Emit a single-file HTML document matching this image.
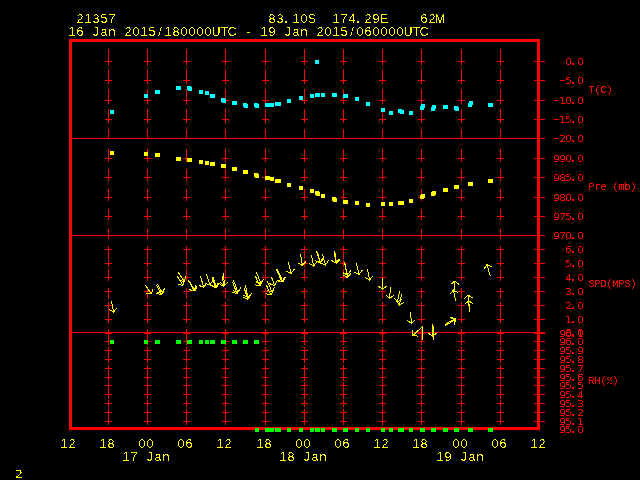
<!DOCTYPE html><html><head><meta charset="utf-8"><style>html,body{margin:0;padding:0;background:#000;width:640px;height:480px;overflow:hidden}svg{display:block}text{white-space:pre}</style></head><body>
<svg width="640" height="480" viewBox="0 0 640 480">
<defs><filter id="th" x="0" y="0" width="100%" height="100%" color-interpolation-filters="sRGB"><feComponentTransfer><feFuncA type="discrete" tableValues="0 0 1 1"/></feComponentTransfer></filter><filter id="th6" x="0" y="0" width="100%" height="100%" color-interpolation-filters="sRGB"><feComponentTransfer><feFuncA type="discrete" tableValues="0 0 0 0 0 0 1 1 1 1"/></feComponentTransfer></filter></defs>
<rect x="0" y="0" width="640" height="480" fill="#000"/>
<path fill="#ff0000" shape-rendering="crispEdges" d="M69 39h471v3h-471zM69 427h471v3h-471zM69 39h3v391h-3zM537 39h3v391h-3zM72 138h473v1h-473zM72 235h473v1h-473zM72 332h473v1h-473zM534 61h11v1h-11zM534 80h11v1h-11zM534 100h11v1h-11zM534 119h11v1h-11zM534 138h11v1h-11zM534 158h11v1h-11zM534 177h11v1h-11zM534 197h11v1h-11zM534 216h11v1h-11zM534 235h11v1h-11zM534 249h11v1h-11zM534 263h11v1h-11zM534 277h11v1h-11zM534 291h11v1h-11zM534 305h11v1h-11zM534 319h11v1h-11zM534 332h11v1h-11zM534 333h11v1h-11zM534 341h11v1h-11zM534 350h11v1h-11zM534 359h11v1h-11zM534 368h11v1h-11zM534 377h11v1h-11zM534 385h11v1h-11zM534 394h11v1h-11zM534 403h11v1h-11zM534 412h11v1h-11zM534 421h11v1h-11zM108 49h1v16h-1zM108 69h1v15h-1zM108 89h1v15h-1zM108 109h1v14h-1zM108 129h1v10h-1zM108 149h1v13h-1zM108 169h1v12h-1zM108 189h1v12h-1zM108 209h1v11h-1zM108 229h1v10h-1zM108 246h1v13h-1zM108 260h1v7h-1zM108 269h1v12h-1zM108 288h1v11h-1zM108 302h1v21h-1zM108 329h1v16h-1zM108 347h1v16h-1zM108 365h1v16h-1zM108 382h1v17h-1zM108 400h1v7h-1zM108 409h1v16h-1zM105 61h7v1h-7zM105 80h7v1h-7zM105 100h7v1h-7zM105 119h7v1h-7zM105 138h7v1h-7zM105 158h7v1h-7zM105 177h7v1h-7zM105 197h7v1h-7zM105 216h7v1h-7zM105 235h7v1h-7zM105 249h7v1h-7zM105 263h7v1h-7zM105 277h7v1h-7zM105 291h7v1h-7zM105 305h7v1h-7zM105 319h7v1h-7zM105 332h7v1h-7zM105 333h7v1h-7zM105 341h7v1h-7zM105 350h7v1h-7zM105 359h7v1h-7zM105 368h7v1h-7zM105 377h7v1h-7zM105 385h7v1h-7zM105 394h7v1h-7zM105 403h7v1h-7zM105 412h7v1h-7zM105 421h7v1h-7zM147 49h1v16h-1zM147 69h1v15h-1zM147 89h1v15h-1zM147 109h1v14h-1zM147 129h1v10h-1zM147 149h1v13h-1zM147 169h1v12h-1zM147 189h1v12h-1zM147 209h1v11h-1zM147 229h1v10h-1zM147 246h1v13h-1zM147 260h1v7h-1zM147 269h1v12h-1zM147 288h1v11h-1zM147 302h1v21h-1zM147 329h1v16h-1zM147 347h1v16h-1zM147 365h1v16h-1zM147 382h1v17h-1zM147 400h1v7h-1zM147 409h1v16h-1zM144 61h7v1h-7zM144 80h7v1h-7zM144 100h7v1h-7zM144 119h7v1h-7zM144 138h7v1h-7zM144 158h7v1h-7zM144 177h7v1h-7zM144 197h7v1h-7zM144 216h7v1h-7zM144 235h7v1h-7zM144 249h7v1h-7zM144 263h7v1h-7zM144 277h7v1h-7zM144 291h7v1h-7zM144 305h7v1h-7zM144 319h7v1h-7zM144 332h7v1h-7zM144 333h7v1h-7zM144 341h7v1h-7zM144 350h7v1h-7zM144 359h7v1h-7zM144 368h7v1h-7zM144 377h7v1h-7zM144 385h7v1h-7zM144 394h7v1h-7zM144 403h7v1h-7zM144 412h7v1h-7zM144 421h7v1h-7zM186 49h1v16h-1zM186 69h1v15h-1zM186 89h1v15h-1zM186 109h1v14h-1zM186 129h1v10h-1zM186 149h1v13h-1zM186 169h1v12h-1zM186 189h1v12h-1zM186 209h1v11h-1zM186 229h1v10h-1zM186 246h1v13h-1zM186 260h1v7h-1zM186 269h1v12h-1zM186 288h1v11h-1zM186 302h1v21h-1zM186 329h1v16h-1zM186 347h1v16h-1zM186 365h1v16h-1zM186 382h1v17h-1zM186 400h1v7h-1zM186 409h1v16h-1zM183 61h7v1h-7zM183 80h7v1h-7zM183 100h7v1h-7zM183 119h7v1h-7zM183 138h7v1h-7zM183 158h7v1h-7zM183 177h7v1h-7zM183 197h7v1h-7zM183 216h7v1h-7zM183 235h7v1h-7zM183 249h7v1h-7zM183 263h7v1h-7zM183 277h7v1h-7zM183 291h7v1h-7zM183 305h7v1h-7zM183 319h7v1h-7zM183 332h7v1h-7zM183 333h7v1h-7zM183 341h7v1h-7zM183 350h7v1h-7zM183 359h7v1h-7zM183 368h7v1h-7zM183 377h7v1h-7zM183 385h7v1h-7zM183 394h7v1h-7zM183 403h7v1h-7zM183 412h7v1h-7zM183 421h7v1h-7zM225 49h1v16h-1zM225 69h1v15h-1zM225 89h1v15h-1zM225 109h1v14h-1zM225 129h1v10h-1zM225 149h1v13h-1zM225 169h1v12h-1zM225 189h1v12h-1zM225 209h1v11h-1zM225 229h1v10h-1zM225 246h1v13h-1zM225 260h1v7h-1zM225 269h1v12h-1zM225 288h1v11h-1zM225 302h1v21h-1zM225 329h1v16h-1zM225 347h1v16h-1zM225 365h1v16h-1zM225 382h1v17h-1zM225 400h1v7h-1zM225 409h1v16h-1zM222 61h7v1h-7zM222 80h7v1h-7zM222 100h7v1h-7zM222 119h7v1h-7zM222 138h7v1h-7zM222 158h7v1h-7zM222 177h7v1h-7zM222 197h7v1h-7zM222 216h7v1h-7zM222 235h7v1h-7zM222 249h7v1h-7zM222 263h7v1h-7zM222 277h7v1h-7zM222 291h7v1h-7zM222 305h7v1h-7zM222 319h7v1h-7zM222 332h7v1h-7zM222 333h7v1h-7zM222 341h7v1h-7zM222 350h7v1h-7zM222 359h7v1h-7zM222 368h7v1h-7zM222 377h7v1h-7zM222 385h7v1h-7zM222 394h7v1h-7zM222 403h7v1h-7zM222 412h7v1h-7zM222 421h7v1h-7zM265 49h1v16h-1zM265 69h1v15h-1zM265 89h1v15h-1zM265 109h1v14h-1zM265 129h1v10h-1zM265 149h1v13h-1zM265 169h1v12h-1zM265 189h1v12h-1zM265 209h1v11h-1zM265 229h1v10h-1zM265 246h1v13h-1zM265 260h1v7h-1zM265 269h1v12h-1zM265 288h1v11h-1zM265 302h1v21h-1zM265 329h1v16h-1zM265 347h1v16h-1zM265 365h1v16h-1zM265 382h1v17h-1zM265 400h1v7h-1zM265 409h1v16h-1zM262 61h7v1h-7zM262 80h7v1h-7zM262 100h7v1h-7zM262 119h7v1h-7zM262 138h7v1h-7zM262 158h7v1h-7zM262 177h7v1h-7zM262 197h7v1h-7zM262 216h7v1h-7zM262 235h7v1h-7zM262 249h7v1h-7zM262 263h7v1h-7zM262 277h7v1h-7zM262 291h7v1h-7zM262 305h7v1h-7zM262 319h7v1h-7zM262 332h7v1h-7zM262 333h7v1h-7zM262 341h7v1h-7zM262 350h7v1h-7zM262 359h7v1h-7zM262 368h7v1h-7zM262 377h7v1h-7zM262 385h7v1h-7zM262 394h7v1h-7zM262 403h7v1h-7zM262 412h7v1h-7zM262 421h7v1h-7zM304 49h1v16h-1zM304 69h1v15h-1zM304 89h1v15h-1zM304 109h1v14h-1zM304 129h1v10h-1zM304 149h1v13h-1zM304 169h1v12h-1zM304 189h1v12h-1zM304 209h1v11h-1zM304 229h1v10h-1zM304 246h1v13h-1zM304 260h1v7h-1zM304 269h1v12h-1zM304 288h1v11h-1zM304 302h1v21h-1zM304 329h1v16h-1zM304 347h1v16h-1zM304 365h1v16h-1zM304 382h1v17h-1zM304 400h1v7h-1zM304 409h1v16h-1zM301 61h7v1h-7zM301 80h7v1h-7zM301 100h7v1h-7zM301 119h7v1h-7zM301 138h7v1h-7zM301 158h7v1h-7zM301 177h7v1h-7zM301 197h7v1h-7zM301 216h7v1h-7zM301 235h7v1h-7zM301 249h7v1h-7zM301 263h7v1h-7zM301 277h7v1h-7zM301 291h7v1h-7zM301 305h7v1h-7zM301 319h7v1h-7zM301 332h7v1h-7zM301 333h7v1h-7zM301 341h7v1h-7zM301 350h7v1h-7zM301 359h7v1h-7zM301 368h7v1h-7zM301 377h7v1h-7zM301 385h7v1h-7zM301 394h7v1h-7zM301 403h7v1h-7zM301 412h7v1h-7zM301 421h7v1h-7zM343 49h1v16h-1zM343 69h1v15h-1zM343 89h1v15h-1zM343 109h1v14h-1zM343 129h1v10h-1zM343 149h1v13h-1zM343 169h1v12h-1zM343 189h1v12h-1zM343 209h1v11h-1zM343 229h1v10h-1zM343 246h1v13h-1zM343 260h1v7h-1zM343 269h1v12h-1zM343 288h1v11h-1zM343 302h1v21h-1zM343 329h1v16h-1zM343 347h1v16h-1zM343 365h1v16h-1zM343 382h1v17h-1zM343 400h1v7h-1zM343 409h1v16h-1zM340 61h7v1h-7zM340 80h7v1h-7zM340 100h7v1h-7zM340 119h7v1h-7zM340 138h7v1h-7zM340 158h7v1h-7zM340 177h7v1h-7zM340 197h7v1h-7zM340 216h7v1h-7zM340 235h7v1h-7zM340 249h7v1h-7zM340 263h7v1h-7zM340 277h7v1h-7zM340 291h7v1h-7zM340 305h7v1h-7zM340 319h7v1h-7zM340 332h7v1h-7zM340 333h7v1h-7zM340 341h7v1h-7zM340 350h7v1h-7zM340 359h7v1h-7zM340 368h7v1h-7zM340 377h7v1h-7zM340 385h7v1h-7zM340 394h7v1h-7zM340 403h7v1h-7zM340 412h7v1h-7zM340 421h7v1h-7zM382 49h1v16h-1zM382 69h1v15h-1zM382 89h1v15h-1zM382 109h1v14h-1zM382 129h1v10h-1zM382 149h1v13h-1zM382 169h1v12h-1zM382 189h1v12h-1zM382 209h1v11h-1zM382 229h1v10h-1zM382 246h1v13h-1zM382 260h1v7h-1zM382 269h1v12h-1zM382 288h1v11h-1zM382 302h1v21h-1zM382 329h1v16h-1zM382 347h1v16h-1zM382 365h1v16h-1zM382 382h1v17h-1zM382 400h1v7h-1zM382 409h1v16h-1zM379 61h7v1h-7zM379 80h7v1h-7zM379 100h7v1h-7zM379 119h7v1h-7zM379 138h7v1h-7zM379 158h7v1h-7zM379 177h7v1h-7zM379 197h7v1h-7zM379 216h7v1h-7zM379 235h7v1h-7zM379 249h7v1h-7zM379 263h7v1h-7zM379 277h7v1h-7zM379 291h7v1h-7zM379 305h7v1h-7zM379 319h7v1h-7zM379 332h7v1h-7zM379 333h7v1h-7zM379 341h7v1h-7zM379 350h7v1h-7zM379 359h7v1h-7zM379 368h7v1h-7zM379 377h7v1h-7zM379 385h7v1h-7zM379 394h7v1h-7zM379 403h7v1h-7zM379 412h7v1h-7zM379 421h7v1h-7zM421 49h1v16h-1zM421 69h1v15h-1zM421 89h1v15h-1zM421 109h1v14h-1zM421 129h1v10h-1zM421 149h1v13h-1zM421 169h1v12h-1zM421 189h1v12h-1zM421 209h1v11h-1zM421 229h1v10h-1zM421 246h1v13h-1zM421 260h1v7h-1zM421 269h1v12h-1zM421 288h1v11h-1zM421 302h1v21h-1zM421 329h1v16h-1zM421 347h1v16h-1zM421 365h1v16h-1zM421 382h1v17h-1zM421 400h1v7h-1zM421 409h1v16h-1zM418 61h7v1h-7zM418 80h7v1h-7zM418 100h7v1h-7zM418 119h7v1h-7zM418 138h7v1h-7zM418 158h7v1h-7zM418 177h7v1h-7zM418 197h7v1h-7zM418 216h7v1h-7zM418 235h7v1h-7zM418 249h7v1h-7zM418 263h7v1h-7zM418 277h7v1h-7zM418 291h7v1h-7zM418 305h7v1h-7zM418 319h7v1h-7zM418 332h7v1h-7zM418 333h7v1h-7zM418 341h7v1h-7zM418 350h7v1h-7zM418 359h7v1h-7zM418 368h7v1h-7zM418 377h7v1h-7zM418 385h7v1h-7zM418 394h7v1h-7zM418 403h7v1h-7zM418 412h7v1h-7zM418 421h7v1h-7zM461 49h1v16h-1zM461 69h1v15h-1zM461 89h1v15h-1zM461 109h1v14h-1zM461 129h1v10h-1zM461 149h1v13h-1zM461 169h1v12h-1zM461 189h1v12h-1zM461 209h1v11h-1zM461 229h1v10h-1zM461 246h1v13h-1zM461 260h1v7h-1zM461 269h1v12h-1zM461 288h1v11h-1zM461 302h1v21h-1zM461 329h1v16h-1zM461 347h1v16h-1zM461 365h1v16h-1zM461 382h1v17h-1zM461 400h1v7h-1zM461 409h1v16h-1zM458 61h7v1h-7zM458 80h7v1h-7zM458 100h7v1h-7zM458 119h7v1h-7zM458 138h7v1h-7zM458 158h7v1h-7zM458 177h7v1h-7zM458 197h7v1h-7zM458 216h7v1h-7zM458 235h7v1h-7zM458 249h7v1h-7zM458 263h7v1h-7zM458 277h7v1h-7zM458 291h7v1h-7zM458 305h7v1h-7zM458 319h7v1h-7zM458 332h7v1h-7zM458 333h7v1h-7zM458 341h7v1h-7zM458 350h7v1h-7zM458 359h7v1h-7zM458 368h7v1h-7zM458 377h7v1h-7zM458 385h7v1h-7zM458 394h7v1h-7zM458 403h7v1h-7zM458 412h7v1h-7zM458 421h7v1h-7zM500 49h1v16h-1zM500 69h1v15h-1zM500 89h1v15h-1zM500 109h1v14h-1zM500 129h1v10h-1zM500 149h1v13h-1zM500 169h1v12h-1zM500 189h1v12h-1zM500 209h1v11h-1zM500 229h1v10h-1zM500 246h1v13h-1zM500 260h1v7h-1zM500 269h1v12h-1zM500 288h1v11h-1zM500 302h1v21h-1zM500 329h1v16h-1zM500 347h1v16h-1zM500 365h1v16h-1zM500 382h1v17h-1zM500 400h1v7h-1zM500 409h1v16h-1zM497 61h7v1h-7zM497 80h7v1h-7zM497 100h7v1h-7zM497 119h7v1h-7zM497 138h7v1h-7zM497 158h7v1h-7zM497 177h7v1h-7zM497 197h7v1h-7zM497 216h7v1h-7zM497 235h7v1h-7zM497 249h7v1h-7zM497 263h7v1h-7zM497 277h7v1h-7zM497 291h7v1h-7zM497 305h7v1h-7zM497 319h7v1h-7zM497 332h7v1h-7zM497 333h7v1h-7zM497 341h7v1h-7zM497 350h7v1h-7zM497 359h7v1h-7zM497 368h7v1h-7zM497 377h7v1h-7zM497 385h7v1h-7zM497 394h7v1h-7zM497 403h7v1h-7zM497 412h7v1h-7zM497 421h7v1h-7z"/>
<polyline fill="none" stroke="#ffff00" stroke-width="1" shape-rendering="crispEdges" points="422.5,326.0 422.5,339.5"/>
<polyline fill="none" stroke="#ffff00" stroke-width="1" shape-rendering="crispEdges" points="433.5,326.0 433.5,339.5"/>
<polyline fill="none" stroke="#ffff00" stroke-width="1" shape-rendering="crispEdges" points="111.5,301.0 113.5,312.0"/>
<polyline fill="none" stroke="#ffff00" stroke-width="1" shape-rendering="crispEdges" points="117.0,307.8 113.5,312.0 108.7,309.3"/>
<polyline fill="none" stroke="#ffff00" stroke-width="1" shape-rendering="crispEdges" points="145.5,285.5 151.5,294.0"/>
<polyline fill="none" stroke="#ffff00" stroke-width="1" shape-rendering="crispEdges" points="152.9,288.7 151.5,294.0 146.0,293.5"/>
<polyline fill="none" stroke="#ffff00" stroke-width="1" shape-rendering="crispEdges" points="156.5,285.5 161.8,294.5"/>
<polyline fill="none" stroke="#ffff00" stroke-width="1" shape-rendering="crispEdges" points="163.6,289.3 161.8,294.5 156.4,293.6"/>
<polyline fill="none" stroke="#ffff00" stroke-width="1" shape-rendering="crispEdges" points="157.5,284.5 162.8,293.5"/>
<polyline fill="none" stroke="#ffff00" stroke-width="1" shape-rendering="crispEdges" points="164.6,288.3 162.8,293.5 157.4,292.6"/>
<polyline fill="none" stroke="#ffff00" stroke-width="1" shape-rendering="crispEdges" points="178.1,272.1 184.3,281.3"/>
<polyline fill="none" stroke="#ffff00" stroke-width="1" shape-rendering="crispEdges" points="185.8,276.0 184.3,281.3 178.8,280.7"/>
<polyline fill="none" stroke="#ffff00" stroke-width="1" shape-rendering="crispEdges" points="177.3,276.4 183.0,285.3"/>
<polyline fill="none" stroke="#ffff00" stroke-width="1" shape-rendering="crispEdges" points="184.6,280.1 183.0,285.3 177.5,284.6"/>
<polyline fill="none" stroke="#ffff00" stroke-width="1" shape-rendering="crispEdges" points="188.3,280.3 194.0,290.5"/>
<polyline fill="none" stroke="#ffff00" stroke-width="1" shape-rendering="crispEdges" points="196.0,285.4 194.0,290.5 188.6,289.5"/>
<polyline fill="none" stroke="#ffff00" stroke-width="1" shape-rendering="crispEdges" points="189.3,280.8 195.0,291.0"/>
<polyline fill="none" stroke="#ffff00" stroke-width="1" shape-rendering="crispEdges" points="197.0,285.9 195.0,291.0 189.6,290.0"/>
<polyline fill="none" stroke="#ffff00" stroke-width="1" shape-rendering="crispEdges" points="200.4,276.5 203.9,287.4"/>
<polyline fill="none" stroke="#ffff00" stroke-width="1" shape-rendering="crispEdges" points="206.8,282.7 203.9,287.4 198.8,285.3"/>
<polyline fill="none" stroke="#ffff00" stroke-width="1" shape-rendering="crispEdges" points="206.5,274.4 209.9,285.1"/>
<polyline fill="none" stroke="#ffff00" stroke-width="1" shape-rendering="crispEdges" points="212.8,280.5 209.9,285.1 204.8,283.0"/>
<polyline fill="none" stroke="#ffff00" stroke-width="1" shape-rendering="crispEdges" points="211.8,276.5 215.5,287.4"/>
<polyline fill="none" stroke="#ffff00" stroke-width="1" shape-rendering="crispEdges" points="218.4,282.7 215.5,287.4 210.4,285.4"/>
<polyline fill="none" stroke="#ffff00" stroke-width="1" shape-rendering="crispEdges" points="212.8,276.5 216.5,287.4"/>
<polyline fill="none" stroke="#ffff00" stroke-width="1" shape-rendering="crispEdges" points="219.4,282.7 216.5,287.4 211.4,285.4"/>
<polyline fill="none" stroke="#ffff00" stroke-width="1" shape-rendering="crispEdges" points="223.4,273.5 224.5,285.5"/>
<polyline fill="none" stroke="#ffff00" stroke-width="1" shape-rendering="crispEdges" points="228.4,281.6 224.5,285.5 220.0,282.4"/>
<polyline fill="none" stroke="#ffff00" stroke-width="1" shape-rendering="crispEdges" points="222.5,276.0 223.5,286.5"/>
<polyline fill="none" stroke="#ffff00" stroke-width="1" shape-rendering="crispEdges" points="227.4,282.6 223.5,286.5 219.0,283.4"/>
<polyline fill="none" stroke="#ffff00" stroke-width="1" shape-rendering="crispEdges" points="233.5,280.3 238.0,292.3"/>
<polyline fill="none" stroke="#ffff00" stroke-width="1" shape-rendering="crispEdges" points="240.7,287.5 238.0,292.3 232.8,290.5"/>
<polyline fill="none" stroke="#ffff00" stroke-width="1" shape-rendering="crispEdges" points="232.5,281.8 237.0,293.8"/>
<polyline fill="none" stroke="#ffff00" stroke-width="1" shape-rendering="crispEdges" points="239.7,289.0 237.0,293.8 231.8,292.0"/>
<polyline fill="none" stroke="#ffff00" stroke-width="1" shape-rendering="crispEdges" points="245.4,285.4 248.0,297.5"/>
<polyline fill="none" stroke="#ffff00" stroke-width="1" shape-rendering="crispEdges" points="251.4,293.2 248.0,297.5 243.1,294.9"/>
<polyline fill="none" stroke="#ffff00" stroke-width="1" shape-rendering="crispEdges" points="244.3,288.4 248.0,299.3"/>
<polyline fill="none" stroke="#ffff00" stroke-width="1" shape-rendering="crispEdges" points="250.9,294.6 248.0,299.3 242.9,297.3"/>
<polyline fill="none" stroke="#ffff00" stroke-width="1" shape-rendering="crispEdges" points="256.5,272.5 261.0,283.5"/>
<polyline fill="none" stroke="#ffff00" stroke-width="1" shape-rendering="crispEdges" points="263.6,278.6 261.0,283.5 255.8,281.8"/>
<polyline fill="none" stroke="#ffff00" stroke-width="1" shape-rendering="crispEdges" points="255.5,276.5 260.0,286.0"/>
<polyline fill="none" stroke="#ffff00" stroke-width="1" shape-rendering="crispEdges" points="262.3,281.0 260.0,286.0 254.7,284.6"/>
<polyline fill="none" stroke="#ffff00" stroke-width="1" shape-rendering="crispEdges" points="267.5,281.5 272.0,292.0"/>
<polyline fill="none" stroke="#ffff00" stroke-width="1" shape-rendering="crispEdges" points="274.5,287.1 272.0,292.0 266.7,290.4"/>
<polyline fill="none" stroke="#ffff00" stroke-width="1" shape-rendering="crispEdges" points="266.5,285.5 271.0,295.0"/>
<polyline fill="none" stroke="#ffff00" stroke-width="1" shape-rendering="crispEdges" points="273.3,290.0 271.0,295.0 265.7,293.6"/>
<polyline fill="none" stroke="#ffff00" stroke-width="1" shape-rendering="crispEdges" points="271.5,277.0 274.5,285.5"/>
<polyline fill="none" stroke="#ffff00" stroke-width="1" shape-rendering="crispEdges" points="277.3,280.8 274.5,285.5 269.4,283.6"/>
<polyline fill="none" stroke="#ffff00" stroke-width="1" shape-rendering="crispEdges" points="276.5,269.5 282.0,282.0"/>
<polyline fill="none" stroke="#ffff00" stroke-width="1" shape-rendering="crispEdges" points="284.4,277.1 282.0,282.0 276.7,280.5"/>
<polyline fill="none" stroke="#ffff00" stroke-width="1" shape-rendering="crispEdges" points="277.5,269.5 283.0,282.0"/>
<polyline fill="none" stroke="#ffff00" stroke-width="1" shape-rendering="crispEdges" points="285.4,277.1 283.0,282.0 277.7,280.5"/>
<polyline fill="none" stroke="#ffff00" stroke-width="1" shape-rendering="crispEdges" points="288.5,262.5 291.0,273.5"/>
<polyline fill="none" stroke="#ffff00" stroke-width="1" shape-rendering="crispEdges" points="294.3,269.1 291.0,273.5 286.1,271.0"/>
<polyline fill="none" stroke="#ffff00" stroke-width="1" shape-rendering="crispEdges" points="300.5,254.5 302.5,265.5"/>
<polyline fill="none" stroke="#ffff00" stroke-width="1" shape-rendering="crispEdges" points="306.0,261.3 302.5,265.5 297.7,262.8"/>
<polyline fill="none" stroke="#ffff00" stroke-width="1" shape-rendering="crispEdges" points="311.5,255.0 313.5,266.0"/>
<polyline fill="none" stroke="#ffff00" stroke-width="1" shape-rendering="crispEdges" points="317.0,261.8 313.5,266.0 308.7,263.3"/>
<polyline fill="none" stroke="#ffff00" stroke-width="1" shape-rendering="crispEdges" points="316.5,251.5 320.0,262.5"/>
<polyline fill="none" stroke="#ffff00" stroke-width="1" shape-rendering="crispEdges" points="322.9,257.9 320.0,262.5 314.9,260.4"/>
<polyline fill="none" stroke="#ffff00" stroke-width="1" shape-rendering="crispEdges" points="317.5,252.5 320.5,263.0"/>
<polyline fill="none" stroke="#ffff00" stroke-width="1" shape-rendering="crispEdges" points="323.6,258.4 320.5,263.0 315.5,260.8"/>
<polyline fill="none" stroke="#ffff00" stroke-width="1" shape-rendering="crispEdges" points="322.5,254.5 325.5,265.0"/>
<polyline fill="none" stroke="#ffff00" stroke-width="1" shape-rendering="crispEdges" points="328.6,260.4 325.5,265.0 320.5,262.8"/>
<polyline fill="none" stroke="#ffff00" stroke-width="1" shape-rendering="crispEdges" points="334.0,251.5 336.0,263.0"/>
<polyline fill="none" stroke="#ffff00" stroke-width="1" shape-rendering="crispEdges" points="339.5,258.8 336.0,263.0 331.2,260.2"/>
<polyline fill="none" stroke="#ffff00" stroke-width="1" shape-rendering="crispEdges" points="335.0,252.5 336.5,263.5"/>
<polyline fill="none" stroke="#ffff00" stroke-width="1" shape-rendering="crispEdges" points="340.2,259.4 336.5,263.5 331.8,260.6"/>
<polyline fill="none" stroke="#ffff00" stroke-width="1" shape-rendering="crispEdges" points="344.5,262.5 347.5,275.0"/>
<polyline fill="none" stroke="#ffff00" stroke-width="1" shape-rendering="crispEdges" points="350.8,270.6 347.5,275.0 342.6,272.5"/>
<polyline fill="none" stroke="#ffff00" stroke-width="1" shape-rendering="crispEdges" points="345.0,264.5 347.5,277.5"/>
<polyline fill="none" stroke="#ffff00" stroke-width="1" shape-rendering="crispEdges" points="351.0,273.2 347.5,277.5 342.7,274.8"/>
<polyline fill="none" stroke="#ffff00" stroke-width="1" shape-rendering="crispEdges" points="356.5,263.5 359.0,274.5"/>
<polyline fill="none" stroke="#ffff00" stroke-width="1" shape-rendering="crispEdges" points="362.3,270.1 359.0,274.5 354.1,272.0"/>
<polyline fill="none" stroke="#ffff00" stroke-width="1" shape-rendering="crispEdges" points="367.5,269.5 369.5,280.0"/>
<polyline fill="none" stroke="#ffff00" stroke-width="1" shape-rendering="crispEdges" points="373.0,275.7 369.5,280.0 364.7,277.3"/>
<polyline fill="none" stroke="#ffff00" stroke-width="1" shape-rendering="crispEdges" points="382.5,278.0 382.5,289.5"/>
<polyline fill="none" stroke="#ffff00" stroke-width="1" shape-rendering="crispEdges" points="386.7,286.0 382.5,289.5 378.3,286.0"/>
<polyline fill="none" stroke="#ffff00" stroke-width="1" shape-rendering="crispEdges" points="390.5,287.0 389.5,298.5"/>
<polyline fill="none" stroke="#ffff00" stroke-width="1" shape-rendering="crispEdges" points="394.0,295.3 389.5,298.5 385.6,294.6"/>
<polyline fill="none" stroke="#ffff00" stroke-width="1" shape-rendering="crispEdges" points="399.5,291.0 397.5,302.0"/>
<polyline fill="none" stroke="#ffff00" stroke-width="1" shape-rendering="crispEdges" points="402.3,299.3 397.5,302.0 394.0,297.8"/>
<polyline fill="none" stroke="#ffff00" stroke-width="1" shape-rendering="crispEdges" points="401.5,294.0 399.5,305.0"/>
<polyline fill="none" stroke="#ffff00" stroke-width="1" shape-rendering="crispEdges" points="404.3,302.3 399.5,305.0 396.0,300.8"/>
<polyline fill="none" stroke="#ffff00" stroke-width="1" shape-rendering="crispEdges" points="410.5,312.0 411.5,323.5"/>
<polyline fill="none" stroke="#ffff00" stroke-width="1" shape-rendering="crispEdges" points="415.4,319.6 411.5,323.5 407.0,320.3"/>
<polyline fill="none" stroke="#ffff00" stroke-width="1" shape-rendering="crispEdges" points="422.0,327.0 412.8,335.5"/>
<polyline fill="none" stroke="#ffff00" stroke-width="1" shape-rendering="crispEdges" points="418.3,336.2 412.8,335.5 412.5,330.0"/>
<polyline fill="none" stroke="#ffff00" stroke-width="1" shape-rendering="crispEdges" points="432.5,324.0 432.5,336.5"/>
<polyline fill="none" stroke="#ffff00" stroke-width="1" shape-rendering="crispEdges" points="436.7,333.0 432.5,336.5 428.3,333.0"/>
<polyline fill="none" stroke="#ffff00" stroke-width="1" shape-rendering="crispEdges" points="445.0,324.4 455.0,318.8"/>
<polyline fill="none" stroke="#ffff00" stroke-width="1" shape-rendering="crispEdges" points="449.8,316.8 455.0,318.8 454.0,324.2"/>
<polyline fill="none" stroke="#ffff00" stroke-width="1" shape-rendering="crispEdges" points="445.5,325.5 455.5,319.5"/>
<polyline fill="none" stroke="#ffff00" stroke-width="1" shape-rendering="crispEdges" points="450.3,317.7 455.5,319.5 454.6,324.9"/>
<polyline fill="none" stroke="#ffff00" stroke-width="1" shape-rendering="crispEdges" points="455.5,301.0 453.5,290.0"/>
<polyline fill="none" stroke="#ffff00" stroke-width="1" shape-rendering="crispEdges" points="450.0,294.2 453.5,290.0 458.3,292.7"/>
<polyline fill="none" stroke="#ffff00" stroke-width="1" shape-rendering="crispEdges" points="455.0,292.0 454.8,281.0"/>
<polyline fill="none" stroke="#ffff00" stroke-width="1" shape-rendering="crispEdges" points="450.6,284.6 454.8,281.0 459.0,284.4"/>
<polyline fill="none" stroke="#ffff00" stroke-width="1" shape-rendering="crispEdges" points="469.5,312.0 468.8,300.6"/>
<polyline fill="none" stroke="#ffff00" stroke-width="1" shape-rendering="crispEdges" points="464.8,304.4 468.8,300.6 473.2,303.9"/>
<polyline fill="none" stroke="#ffff00" stroke-width="1" shape-rendering="crispEdges" points="469.0,306.0 468.2,295.0"/>
<polyline fill="none" stroke="#ffff00" stroke-width="1" shape-rendering="crispEdges" points="464.3,298.8 468.2,295.0 472.7,298.2"/>
<polyline fill="none" stroke="#ffff00" stroke-width="1" shape-rendering="crispEdges" points="490.2,276.0 487.0,264.5"/>
<polyline fill="none" stroke="#ffff00" stroke-width="1" shape-rendering="crispEdges" points="483.9,269.0 487.0,264.5 492.0,266.8"/>
<path fill="#00ffff" shape-rendering="crispEdges" d="M110 110h4v4h-4zM144 94h4v4h-4zM155 90h5v4h-5zM176 86h5v4h-5zM187 86h4v4h-4zM188 87h4v4h-4zM199 90h4v4h-4zM205 91h4v4h-4zM210 94h5v4h-5zM221 98h4v4h-4zM222 99h4v4h-4zM232 101h5v4h-5zM243 103h4v4h-4zM244 104h4v4h-4zM254 103h4v4h-4zM255 104h4v4h-4zM265 103h9v4h-9zM275 102h6v4h-6zM287 99h4v4h-4zM299 96h4v4h-4zM310 94h4v4h-4zM315 93h5v4h-5zM321 93h4v4h-4zM315 60h4v4h-4zM332 93h5v4h-5zM343 94h5v4h-5zM355 97h4v4h-4zM366 102h4v4h-4zM381 108h4v4h-4zM389 111h4v4h-4zM398 109h4v4h-4zM400 110h4v4h-4zM409 111h4v4h-4zM421 104h4v4h-4zM420 106h4v4h-4zM432 105h4v4h-4zM431 107h4v4h-4zM443 105h5v4h-5zM454 106h4v4h-4zM455 107h4v4h-4zM469 101h4v4h-4zM468 103h4v4h-4zM488 103h5v4h-5z"/>
<path fill="#ffff00" shape-rendering="crispEdges" d="M110 151h4v4h-4zM144 152h4v4h-4zM155 153h5v4h-5zM176 157h5v4h-5zM187 158h5v4h-5zM199 160h4v4h-4zM205 161h4v4h-4zM210 162h5v4h-5zM221 164h5v4h-5zM232 167h5v4h-5zM243 170h5v4h-5zM254 173h4v4h-4zM255 174h4v4h-4zM265 176h5v4h-5zM270 177h4v4h-4zM275 179h6v4h-6zM287 183h4v4h-4zM299 186h4v4h-4zM310 189h4v4h-4zM315 191h4v4h-4zM316 192h4v4h-4zM321 194h4v4h-4zM332 197h4v4h-4zM333 198h4v4h-4zM343 200h5v4h-5zM355 201h4v4h-4zM366 203h4v4h-4zM381 202h4v4h-4zM389 202h4v4h-4zM398 201h6v4h-6zM409 199h4v4h-4zM421 194h4v4h-4zM420 195h4v4h-4zM432 191h4v4h-4zM431 192h4v4h-4zM443 188h5v4h-5zM454 185h5v4h-5zM468 182h5v4h-5zM488 179h5v4h-5z"/>
<path fill="#00ff00" shape-rendering="crispEdges" d="M110 340h4v4h-4zM144 340h4v4h-4zM155 340h5v4h-5zM176 340h5v4h-5zM187 340h5v4h-5zM199 340h4v4h-4zM205 340h4v4h-4zM210 340h5v4h-5zM221 340h5v4h-5zM232 340h5v4h-5zM243 340h5v4h-5zM254 340h5v4h-5zM255 428h4v4h-4zM265 428h9v4h-9zM275 428h6v4h-6zM287 428h4v4h-4zM299 428h4v4h-4zM310 428h4v4h-4zM315 428h5v4h-5zM321 428h4v4h-4zM332 428h5v4h-5zM343 428h5v4h-5zM355 428h4v4h-4zM366 428h4v4h-4zM381 428h4v4h-4zM389 428h4v4h-4zM398 428h6v4h-6zM409 428h4v4h-4zM420 428h5v4h-5zM431 428h5v4h-5zM443 428h5v4h-5zM454 428h5v4h-5zM468 428h5v4h-5zM488 428h5v4h-5z"/>
<g filter="url(#th)" font-family="'DejaVu Sans', sans-serif">
<text transform="scale(1.2,1)" text-anchor="middle" font-size="9.4px" fill="#ff0000" xml:space="preserve"><tspan x="473.75" y="65">0</tspan><tspan x="477.45" y="65" font-size="16px">.</tspan><tspan x="483.75" y="65">0</tspan></text>
<text transform="scale(1.2,1)" text-anchor="middle" font-size="9.4px" fill="#ff0000" xml:space="preserve"><tspan x="468.75" y="85" font-size="14px">-</tspan><tspan x="473.75" y="84">5</tspan><tspan x="477.45" y="84" font-size="16px">.</tspan><tspan x="483.75" y="84">0</tspan></text>
<text transform="scale(1.2,1)" text-anchor="middle" font-size="9.4px" fill="#ff0000" xml:space="preserve"><tspan x="463.75" y="105" font-size="14px">-</tspan><tspan x="468.75 473.75" y="104">10</tspan><tspan x="477.45" y="104" font-size="16px">.</tspan><tspan x="483.75" y="104">0</tspan></text>
<text transform="scale(1.2,1)" text-anchor="middle" font-size="9.4px" fill="#ff0000" xml:space="preserve"><tspan x="463.75" y="124" font-size="14px">-</tspan><tspan x="468.75 473.75" y="123">15</tspan><tspan x="477.45" y="123" font-size="16px">.</tspan><tspan x="483.75" y="123">0</tspan></text>
<text transform="scale(1.2,1)" text-anchor="middle" font-size="9.4px" fill="#ff0000" xml:space="preserve"><tspan x="463.75" y="143" font-size="14px">-</tspan><tspan x="468.75 473.75" y="142">20</tspan><tspan x="477.45" y="142" font-size="16px">.</tspan><tspan x="483.75" y="142">0</tspan></text>
<text transform="scale(1.2,1)" text-anchor="middle" font-size="9.4px" fill="#ff0000" xml:space="preserve"><tspan x="463.75 468.75 473.75" y="162">990</tspan><tspan x="477.45" y="162" font-size="16px">.</tspan><tspan x="483.75" y="162">0</tspan></text>
<text transform="scale(1.2,1)" text-anchor="middle" font-size="9.4px" fill="#ff0000" xml:space="preserve"><tspan x="463.75 468.75 473.75" y="181">985</tspan><tspan x="477.45" y="181" font-size="16px">.</tspan><tspan x="483.75" y="181">0</tspan></text>
<text transform="scale(1.2,1)" text-anchor="middle" font-size="9.4px" fill="#ff0000" xml:space="preserve"><tspan x="463.75 468.75 473.75" y="201">980</tspan><tspan x="477.45" y="201" font-size="16px">.</tspan><tspan x="483.75" y="201">0</tspan></text>
<text transform="scale(1.2,1)" text-anchor="middle" font-size="9.4px" fill="#ff0000" xml:space="preserve"><tspan x="463.75 468.75 473.75" y="220">975</tspan><tspan x="477.45" y="220" font-size="16px">.</tspan><tspan x="483.75" y="220">0</tspan></text>
<text transform="scale(1.2,1)" text-anchor="middle" font-size="9.4px" fill="#ff0000" xml:space="preserve"><tspan x="463.75 468.75 473.75" y="239">970</tspan><tspan x="477.45" y="239" font-size="16px">.</tspan><tspan x="483.75" y="239">0</tspan></text>
<text transform="scale(1.2,1)" text-anchor="middle" font-size="9.4px" fill="#ff0000" xml:space="preserve"><tspan x="473.75" y="253">6</tspan><tspan x="477.45" y="253" font-size="16px">.</tspan><tspan x="483.75" y="253">0</tspan></text>
<text transform="scale(1.2,1)" text-anchor="middle" font-size="9.4px" fill="#ff0000" xml:space="preserve"><tspan x="473.75" y="267">5</tspan><tspan x="477.45" y="267" font-size="16px">.</tspan><tspan x="483.75" y="267">0</tspan></text>
<text transform="scale(1.2,1)" text-anchor="middle" font-size="9.4px" fill="#ff0000" xml:space="preserve"><tspan x="473.75" y="281">4</tspan><tspan x="477.45" y="281" font-size="16px">.</tspan><tspan x="483.75" y="281">0</tspan></text>
<text transform="scale(1.2,1)" text-anchor="middle" font-size="9.4px" fill="#ff0000" xml:space="preserve"><tspan x="473.75" y="295">3</tspan><tspan x="477.45" y="295" font-size="16px">.</tspan><tspan x="483.75" y="295">0</tspan></text>
<text transform="scale(1.2,1)" text-anchor="middle" font-size="9.4px" fill="#ff0000" xml:space="preserve"><tspan x="473.75" y="309">2</tspan><tspan x="477.45" y="309" font-size="16px">.</tspan><tspan x="483.75" y="309">0</tspan></text>
<text transform="scale(1.2,1)" text-anchor="middle" font-size="9.4px" fill="#ff0000" xml:space="preserve"><tspan x="473.75" y="323">1</tspan><tspan x="477.45" y="323" font-size="16px">.</tspan><tspan x="483.75" y="323">0</tspan></text>
<text transform="scale(1.2,1)" text-anchor="middle" font-size="9.4px" fill="#ff0000" xml:space="preserve"><tspan x="473.75" y="336">0</tspan><tspan x="477.45" y="336" font-size="16px">.</tspan><tspan x="483.75" y="336">0</tspan></text>
<text transform="scale(1.2,1)" text-anchor="middle" font-size="9.4px" fill="#ff0000" xml:space="preserve"><tspan x="468.75 473.75" y="337">96</tspan><tspan x="477.45" y="337" font-size="16px">.</tspan><tspan x="483.75" y="337">1</tspan></text>
<text transform="scale(1.2,1)" text-anchor="middle" font-size="9.4px" fill="#ff0000" xml:space="preserve"><tspan x="468.75 473.75" y="345">96</tspan><tspan x="477.45" y="345" font-size="16px">.</tspan><tspan x="483.75" y="345">0</tspan></text>
<text transform="scale(1.2,1)" text-anchor="middle" font-size="9.4px" fill="#ff0000" xml:space="preserve"><tspan x="468.75 473.75" y="354">95</tspan><tspan x="477.45" y="354" font-size="16px">.</tspan><tspan x="483.75" y="354">9</tspan></text>
<text transform="scale(1.2,1)" text-anchor="middle" font-size="9.4px" fill="#ff0000" xml:space="preserve"><tspan x="468.75 473.75" y="363">95</tspan><tspan x="477.45" y="363" font-size="16px">.</tspan><tspan x="483.75" y="363">8</tspan></text>
<text transform="scale(1.2,1)" text-anchor="middle" font-size="9.4px" fill="#ff0000" xml:space="preserve"><tspan x="468.75 473.75" y="372">95</tspan><tspan x="477.45" y="372" font-size="16px">.</tspan><tspan x="483.75" y="372">7</tspan></text>
<text transform="scale(1.2,1)" text-anchor="middle" font-size="9.4px" fill="#ff0000" xml:space="preserve"><tspan x="468.75 473.75" y="381">95</tspan><tspan x="477.45" y="381" font-size="16px">.</tspan><tspan x="483.75" y="381">6</tspan></text>
<text transform="scale(1.2,1)" text-anchor="middle" font-size="9.4px" fill="#ff0000" xml:space="preserve"><tspan x="468.75 473.75" y="389">95</tspan><tspan x="477.45" y="389" font-size="16px">.</tspan><tspan x="483.75" y="389">5</tspan></text>
<text transform="scale(1.2,1)" text-anchor="middle" font-size="9.4px" fill="#ff0000" xml:space="preserve"><tspan x="468.75 473.75" y="398">95</tspan><tspan x="477.45" y="398" font-size="16px">.</tspan><tspan x="483.75" y="398">4</tspan></text>
<text transform="scale(1.2,1)" text-anchor="middle" font-size="9.4px" fill="#ff0000" xml:space="preserve"><tspan x="468.75 473.75" y="407">95</tspan><tspan x="477.45" y="407" font-size="16px">.</tspan><tspan x="483.75" y="407">3</tspan></text>
<text transform="scale(1.2,1)" text-anchor="middle" font-size="9.4px" fill="#ff0000" xml:space="preserve"><tspan x="468.75 473.75" y="416">95</tspan><tspan x="477.45" y="416" font-size="16px">.</tspan><tspan x="483.75" y="416">2</tspan></text>
<text transform="scale(1.2,1)" text-anchor="middle" font-size="9.4px" fill="#ff0000" xml:space="preserve"><tspan x="468.75 473.75" y="425">95</tspan><tspan x="477.45" y="425" font-size="16px">.</tspan><tspan x="483.75" y="425">1</tspan></text>
<text transform="scale(1.2,1)" text-anchor="middle" font-size="9.4px" fill="#ff0000" xml:space="preserve"><tspan x="468.75 473.75" y="433">95</tspan><tspan x="477.45" y="433" font-size="16px">.</tspan><tspan x="483.75" y="433">0</tspan></text>
<text font-family="'Liberation Mono', monospace" text-anchor="middle" font-size="10px" fill="#ff0000" xml:space="preserve"><tspan x="591.5 597.5 603.5 609.5" y="93">T(C)</tspan></text>
<text font-family="'Liberation Mono', monospace" text-anchor="middle" font-size="10px" fill="#ff0000" xml:space="preserve"><tspan x="591.5 597.5 603.5 609.5 615.5 621.5 627.5 633.5" y="190">Pre (mb)</tspan></text>
<text font-family="'Liberation Mono', monospace" text-anchor="middle" font-size="10px" fill="#ff0000" xml:space="preserve"><tspan x="591.5 597.5 603.5 609.5 615.5 621.5 627.5 633.5" y="287">SPD(MPS)</tspan></text>
<text font-family="'Liberation Mono', monospace" text-anchor="middle" font-size="10px" fill="#ff0000" xml:space="preserve"><tspan x="591.5 597.5 603.5 609.5 615.5" y="384">RH(%)</tspan></text>
<text transform="scale(1.2,1)" text-anchor="middle" font-size="10.8px" fill="#ffff00" xml:space="preserve"><tspan x="15.83" y="478">2</tspan></text>
</g>
<g filter="url(#th6)" font-family="'Liberation Sans', sans-serif">
<text text-anchor="middle" font-size="12.6px" fill="#ffff00" xml:space="preserve"><tspan x="80 88 96 104 112 120 128 136 144 152 160 168 176 184 192 200 208 216 224 232 240 248 256 264 272 280" y="23">21357                   83</tspan><tspan x="286" y="23" font-size="18px">.</tspan><tspan x="296 304 312 320 328 336 344 352" y="23">10S  174</tspan><tspan x="358" y="23" font-size="18px">.</tspan><tspan x="368 376 384 392 400 408 416 424 432 440" y="23">29E    62M</tspan></text>
<text text-anchor="middle" font-size="12.6px" fill="#ffff00" xml:space="preserve"><tspan x="72 80 88 96 104 112 120 128 136 144 152 160 168 176 184 192 200 208 216 224 232 240 248 256 264 272 280 288 296 304 312 320 328 336 344 352 360 368 376 384 392 400 408 416 424" y="36">16 Jan 2015/180000UTC - 19 Jan 2015/060000UTC</tspan></text>
<text text-anchor="middle" font-size="12.6px" fill="#ffff00" xml:space="preserve"><tspan x="64 72" y="448">12</tspan></text>
<text text-anchor="middle" font-size="12.6px" fill="#ffff00" xml:space="preserve"><tspan x="103 111" y="448">18</tspan></text>
<text text-anchor="middle" font-size="12.6px" fill="#ffff00" xml:space="preserve"><tspan x="142 150" y="448">00</tspan></text>
<text text-anchor="middle" font-size="12.6px" fill="#ffff00" xml:space="preserve"><tspan x="181 189" y="448">06</tspan></text>
<text text-anchor="middle" font-size="12.6px" fill="#ffff00" xml:space="preserve"><tspan x="220 228" y="448">12</tspan></text>
<text text-anchor="middle" font-size="12.6px" fill="#ffff00" xml:space="preserve"><tspan x="260 268" y="448">18</tspan></text>
<text text-anchor="middle" font-size="12.6px" fill="#ffff00" xml:space="preserve"><tspan x="299 307" y="448">00</tspan></text>
<text text-anchor="middle" font-size="12.6px" fill="#ffff00" xml:space="preserve"><tspan x="338 346" y="448">06</tspan></text>
<text text-anchor="middle" font-size="12.6px" fill="#ffff00" xml:space="preserve"><tspan x="377 385" y="448">12</tspan></text>
<text text-anchor="middle" font-size="12.6px" fill="#ffff00" xml:space="preserve"><tspan x="416 424" y="448">18</tspan></text>
<text text-anchor="middle" font-size="12.6px" fill="#ffff00" xml:space="preserve"><tspan x="456 464" y="448">00</tspan></text>
<text text-anchor="middle" font-size="12.6px" fill="#ffff00" xml:space="preserve"><tspan x="495 503" y="448">06</tspan></text>
<text text-anchor="middle" font-size="12.6px" fill="#ffff00" xml:space="preserve"><tspan x="534 542" y="448">12</tspan></text>
<text text-anchor="middle" font-size="12.6px" fill="#ffff00" xml:space="preserve"><tspan x="126 134 142 150 158 166" y="461">17 Jan</tspan></text>
<text text-anchor="middle" font-size="12.6px" fill="#ffff00" xml:space="preserve"><tspan x="283 291 299 307 315 323" y="461">18 Jan</tspan></text>
<text text-anchor="middle" font-size="12.6px" fill="#ffff00" xml:space="preserve"><tspan x="440 448 456 464 472 480" y="461">19 Jan</tspan></text>
</g>
</svg></body></html>
